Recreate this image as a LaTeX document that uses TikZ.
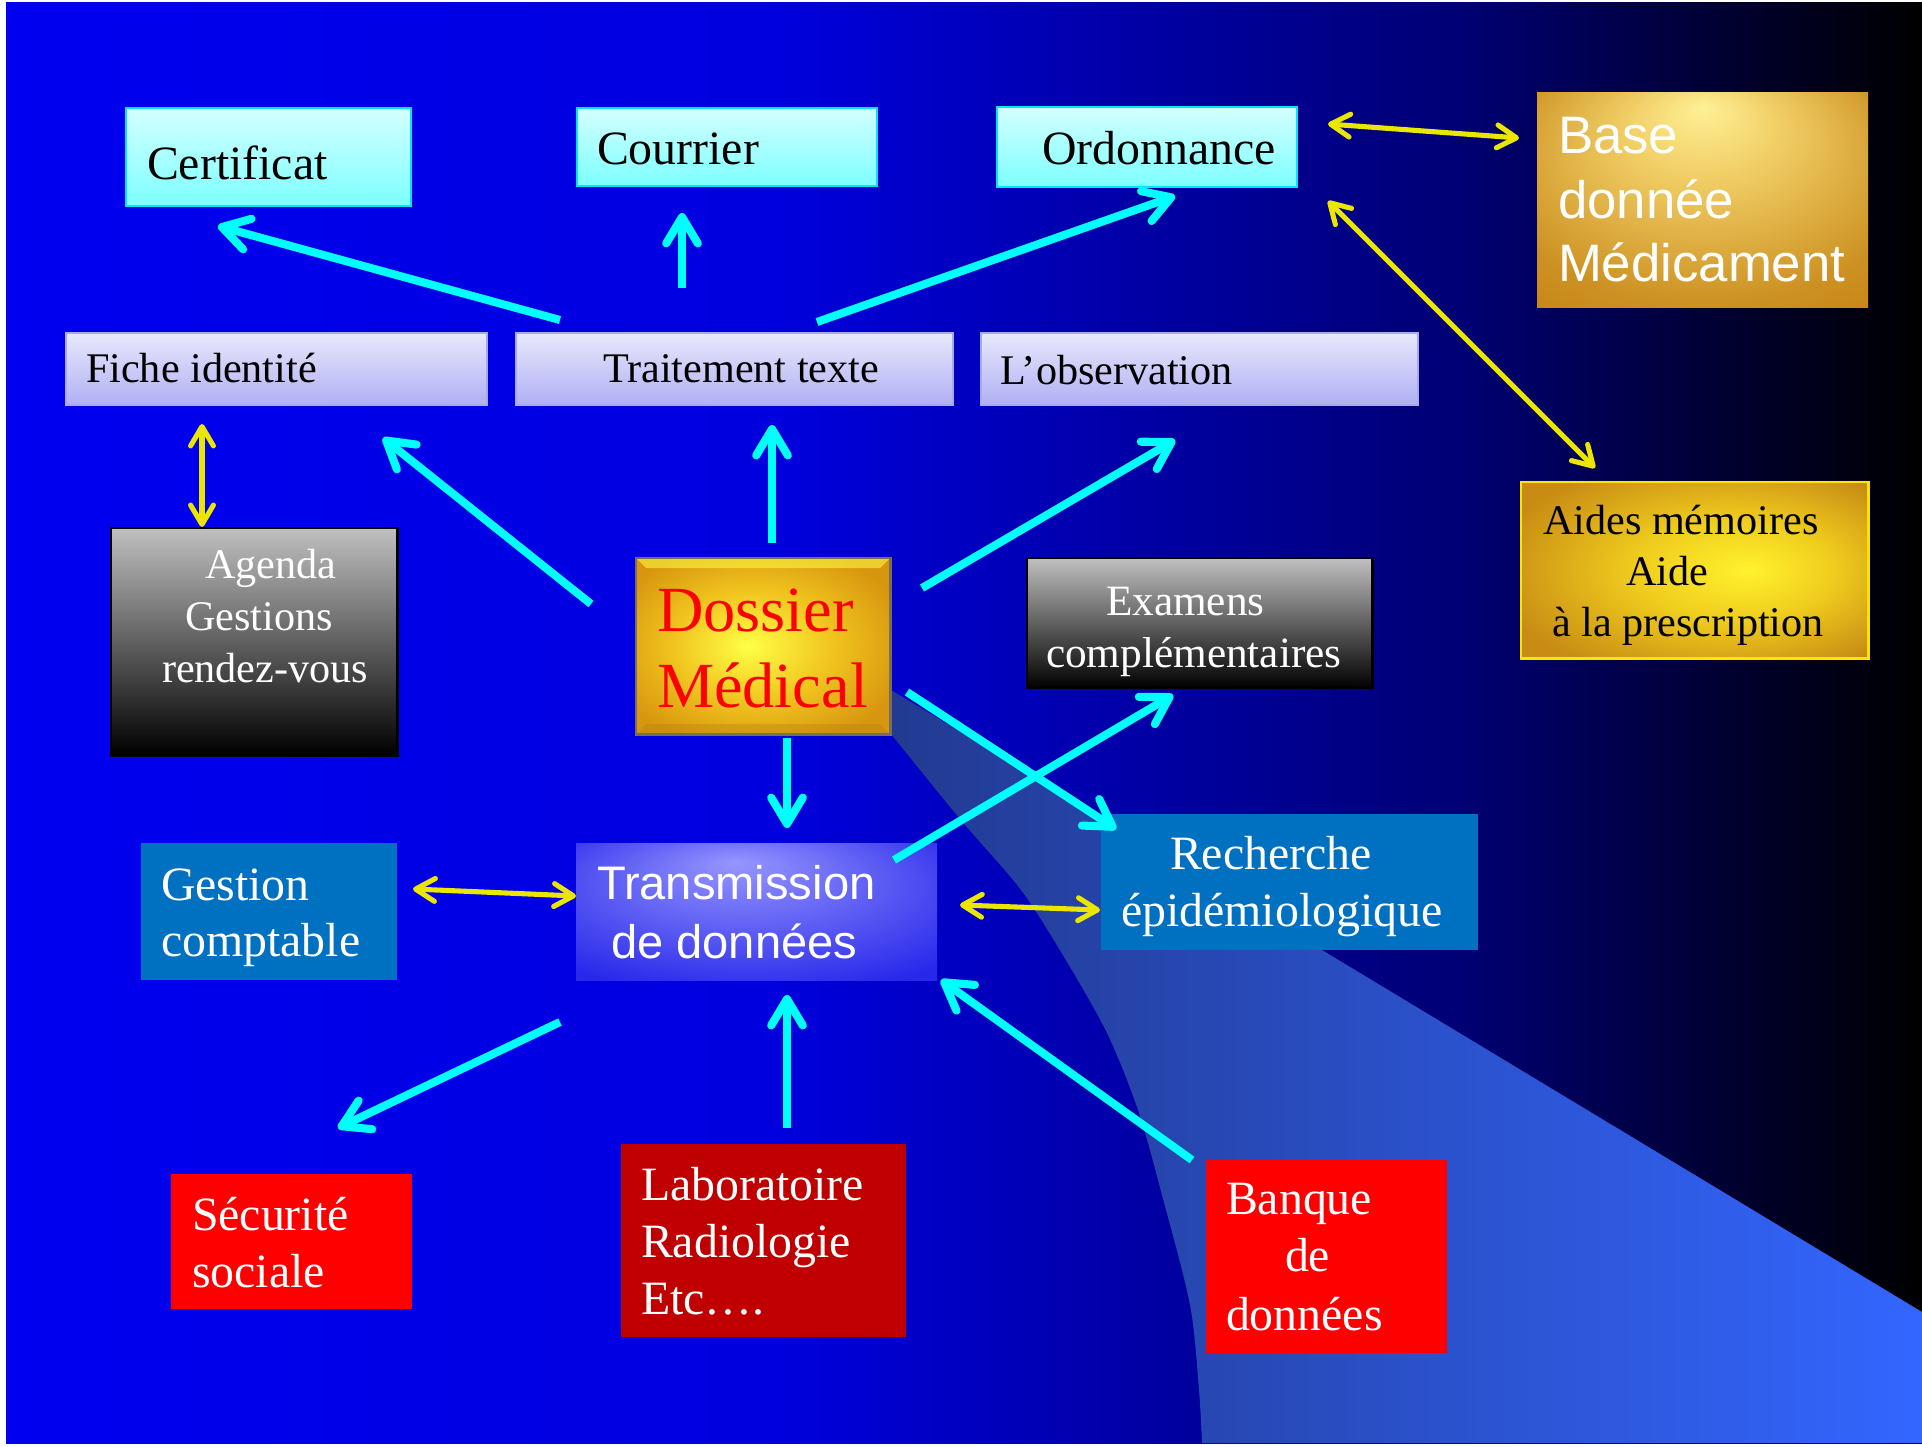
\documentclass[tikz,border=0pt]{standalone}
\usepackage{fontspec}
\setmainfont{Liberation Serif}
\setsansfont{Liberation Sans}
\usetikzlibrary{arrows.meta}
\definecolor{bgA}{RGB}{0,0,240}
\definecolor{bgB}{RGB}{0,0,222}
\definecolor{bgC}{RGB}{0,0,115}
\definecolor{bgD}{RGB}{0,0,0}
\definecolor{wA}{RGB}{34,58,145}
\definecolor{wB}{RGB}{51,102,255}
\definecolor{cyanT}{RGB}{212,255,255}
\definecolor{cyanB}{RGB}{125,255,255}
\definecolor{cyanE}{RGB}{0,230,255}
\definecolor{lavT}{RGB}{232,232,252}
\definecolor{lavB}{RGB}{176,176,245}
\definecolor{lavE}{RGB}{170,170,235}
\definecolor{grT}{RGB}{192,192,192}
\definecolor{grB}{RGB}{0,0,0}
\definecolor{medblue}{RGB}{0,112,192}
\definecolor{dkred}{RGB}{192,0,0}
\definecolor{arrC}{RGB}{0,255,255}
\definecolor{arrY}{RGB}{235,230,0}
\definecolor{bs1}{RGB}{255,240,150}
\definecolor{bs2}{RGB}{240,205,100}
\definecolor{bs3}{RGB}{205,145,35}
\definecolor{bs4}{RGB}{190,120,5}
\definecolor{ad1}{RGB}{255,242,45}
\definecolor{ad2}{RGB}{240,205,30}
\definecolor{ad3}{RGB}{200,140,20}
\definecolor{ds1}{RGB}{255,255,70}
\definecolor{ds2}{RGB}{240,195,30}
\definecolor{ds3}{RGB}{215,150,15}
\definecolor{dsE}{RGB}{120,110,90}
\definecolor{tr1}{RGB}{150,150,255}
\definecolor{tr2}{RGB}{95,95,245}
\definecolor{tr3}{RGB}{40,40,235}
\definecolor{aidE}{RGB}{250,230,0}
\pgfdeclarehorizontalshading{bgsh}{100bp}{color(0bp)=(bgA); color(25bp)=(bgA); color(45bp)=(bgB); color(63bp)=(bgC); color(75bp)=(bgD); color(100bp)=(bgD)}
\pgfdeclareradialshading{basesh}{\pgfpoint{0bp}{22bp}}{color(0bp)=(bs1); color(12bp)=(bs2); color(32bp)=(bs3); color(50bp)=(bs4)}
\pgfdeclareradialshading{aidesh}{\pgfpoint{8bp}{0bp}}{color(0bp)=(ad1); color(14bp)=(ad2); color(32bp)=(ad3); color(50bp)=(ad3)}
\pgfdeclareradialshading{dossh}{\pgfpoint{-3bp}{0bp}}{color(0bp)=(ds1); color(16bp)=(ds2); color(30bp)=(ds3); color(50bp)=(ds3)}
\pgfdeclareradialshading{transh}{\pgfpoint{-3bp}{18bp}}{color(0bp)=(tr1); color(18bp)=(tr2); color(36bp)=(tr3); color(50bp)=(tr3)}
\tikzset{
  box/.style={anchor=north west, inner sep=0pt, outer sep=0pt},
  cyanbox/.style={box, draw=cyanE, line width=0.7pt, top color=cyanT, bottom color=cyanB},
  lavbox/.style={box, draw=lavE, line width=0.5pt, top color=lavT, bottom color=lavB},
  graybox/.style={box, draw=black, line width=0.8pt, top color=grT, bottom color=grB},
  bluebox/.style={box, fill=medblue},
  redbox/.style={box, fill=red},
  dredbox/.style={box, fill=dkred},
  lbl/.style={anchor=base west, inner sep=0pt, outer sep=0pt},
  fA/.style={font=\fontsize{13.6pt}{16pt}\selectfont},
  fB/.style={font=\fontsize{12pt}{14pt}\selectfont},
  fC/.style={font=\fontsize{12.3pt}{15pt}\selectfont},
  fD/.style={font=\fontsize{18.3pt}{22pt}\selectfont},
  fE/.style={font=\sffamily\fontsize{15pt}{18pt}\selectfont},
  fF/.style={font=\sffamily\fontsize{13.4pt}{16pt}\selectfont},
  carr/.style={draw=arrC, line width=2.3pt, -{Straight Barb[length=7.5pt,width=9pt,round]}},
  yarr/.style={draw=arrY, line width=1.45pt, {Straight Barb[length=5.5pt,width=6.5pt,round]}-{Straight Barb[length=5.5pt,width=6.5pt,round]}}
}
\begin{document}
\begin{tikzpicture}[x=0.01cm,y=-0.01cm]
\useasboundingbox (0,0) rectangle (1922,1446);
% background
\fill[white] (0,0) rectangle (1922,1446);
\shade[shading=bgsh] (6,3) rectangle (1922,1443);
% light wedge
\shade[left color=wA, right color=wB] (891,690) -- (1922,1312) -- (1922,1443)
  -- plot[smooth] coordinates {(1202,1443) (1199,1390) (1190,1305) (1162,1195) (1138,1110) (1107,1033) (1064,957) (1021,890) (960,819) (891,734)} -- cycle;

% boxes
\node[cyanbox, minimum width=2.85cm, minimum height=0.98cm] (cert) at (126,108) {};
\node[cyanbox, minimum width=3.00cm, minimum height=0.78cm] (cour) at (577,108) {};
\node[cyanbox, minimum width=3.00cm, minimum height=0.80cm] (ordo) at (997,107) {};
\node[box, shade, shading=basesh, minimum width=3.31cm, minimum height=2.14cm] (base) at (1537,93) {};
\node[lavbox, minimum width=4.21cm, minimum height=0.72cm] (fiche) at (66,333) {};
\node[lavbox, minimum width=4.37cm, minimum height=0.72cm] (trait) at (516,333) {};
\node[lavbox, minimum width=4.37cm, minimum height=0.72cm] (obs) at (981,333) {};
\node[graybox, minimum width=2.86cm, minimum height=2.27cm] (agenda) at (111,528) {};
\node[box, shade, shading=dossh, draw=dsE, line width=0.8pt, minimum width=2.54cm, minimum height=1.76cm] (dossier) at (636,558) {};
\fill[ds1, opacity=0.55] (637,559) -- (889,559) -- (880,568) -- (646,568) -- cycle;
\fill[ds3!85!black, opacity=0.35] (637,733) -- (889,733) -- (880,724) -- (646,724) -- cycle;
\node[graybox, minimum width=3.45cm, minimum height=1.30cm] (exam) at (1027,558) {};
\node[box, shade, shading=aidesh, draw=aidE, line width=0.8pt, minimum width=3.47cm, minimum height=1.76cm] (aides) at (1521,482) {};
\node[bluebox, minimum width=2.56cm, minimum height=1.37cm] (gest) at (141,843) {};
\node[box, shade, shading=transh, minimum width=3.61cm, minimum height=1.37cm] (trans) at (576,843) {};
\node[bluebox, minimum width=3.77cm, minimum height=1.36cm] (rech) at (1101,814) {};
\node[redbox, minimum width=2.41cm, minimum height=1.35cm] (secu) at (171,1174) {};
\node[dredbox, minimum width=2.85cm, minimum height=1.93cm] (labo) at (621,1144) {};
\node[redbox, minimum width=2.41cm, minimum height=1.93cm] (banq) at (1206,1160) {};

% texts
\node[lbl, fA] (tcert) at (147,180) {Certificat};
\node[lbl, fA] (tcour) at (597,165) {Courrier};
\node[lbl, fA] (tordo) at (1042,165) {Ordonnance};
\node[lbl, fE, white] (tbase1) at (1558,154) {Base};
\node[lbl, fE, white] (tbase2) at (1558,219) {donnée};
\node[lbl, fE, white] (tbase3) at (1558,282) {Médicament};
\node[lbl, fB] (tfiche) at (86,383) {Fiche identité};
\node[lbl, fB] (ttrait) at (603,383) {Traitement texte};
\node[lbl, fB] (tobs) at (1000,384) {L’observation};
\node[lbl, fB, white] (tag1) at (205,578) {Agenda};
\node[lbl, fB, white] (tag2) at (185,630) {Gestions};
\node[lbl, fB, white] (tag3) at (162,682) {rendez-vous};
\node[lbl, fD, red] (tdos1) at (657,631) {Dossier};
\node[lbl, fD, red] (tdos2) at (657,707) {Médical};
\node[lbl, fC, white] (tex1) at (1106,615) {Examens};
\node[lbl, fC, white] (tex2) at (1046,667) {complémentaires};
\node[lbl, fB] (tai1) at (1543,534) {Aides mémoires};
\node[lbl, fB] (tai2) at (1626,585) {Aide};
\node[lbl, fB] (tai3) at (1552,636) {à la prescription};
\node[lbl, fA, white] (tge1) at (161,900) {Gestion};
\node[lbl, fA, white] (tge2) at (161,956) {comptable};
\node[lbl, fF, white] (ttr1) at (597,899) {Transmission};
\node[lbl, fF, white] (ttr2) at (611,958) {de données};
\node[lbl, fA, white] (tre1) at (1170,869) {Recherche};
\node[lbl, fA, white] (tre2) at (1121,926) {épidémiologique};
\node[lbl, fA, white] (tse1) at (192,1230) {Sécurité};
\node[lbl, fA, white] (tse2) at (192,1287) {sociale};
\node[lbl, fA, white] (tla1) at (641,1200) {Laboratoire};
\node[lbl, fA, white] (tla2) at (641,1257) {Radiologie};
\node[lbl, fA, white] (tla3) at (641,1314) {Etc….};
\node[lbl, fA, white] (tba1) at (1226,1214) {Banque};
\node[lbl, fA, white] (tba2) at (1285,1271) {de};
\node[lbl, fA, white] (tba3) at (1226,1330) {données};

% connector end points
\coordinate (c1s) at (560,320);  \coordinate (c1e) at (218,226);
\coordinate (c2s) at (682,288);  \coordinate (c2e) at (682,213);
\coordinate (c3s) at (817,322);  \coordinate (c3e) at (1175,196);
\coordinate (c4s) at (591,604);  \coordinate (c4e) at (383,438);
\coordinate (c5s) at (772,543);  \coordinate (c5e) at (772,425);
\coordinate (c6s) at (922,588);  \coordinate (c6e) at (1175,440);
\coordinate (c7s) at (787,738);  \coordinate (c7e) at (787,828);
\coordinate (c8s) at (907,692);  \coordinate (c8e) at (1116,829);
\coordinate (c9s) at (894,860);  \coordinate (c9e) at (1173,695);
\coordinate (c10s) at (560,1022); \coordinate (c10e) at (338,1128);
\coordinate (c11s) at (787,1128); \coordinate (c11e) at (787,995);
\coordinate (c12s) at (1192,1160); \coordinate (c12e) at (941,980);
\coordinate (y1s) at (1328,124); \coordinate (y1e) at (1519,138);
\coordinate (y2s) at (1328,201); \coordinate (y2e) at (1595,468);
\coordinate (y3s) at (202,424);  \coordinate (y3e) at (202,527);
\coordinate (y4s) at (413,889);  \coordinate (y4e) at (576,896);
\coordinate (y5s) at (960,905);  \coordinate (y5e) at (1100,910);

% cyan arrows
\foreach \i in {1,...,12} {\draw[carr] (c\i s) -- (c\i e);}
% yellow double arrows
\foreach \i in {1,...,5} {\draw[yarr] (y\i s) -- (y\i e);}
\end{tikzpicture}
\end{document}
